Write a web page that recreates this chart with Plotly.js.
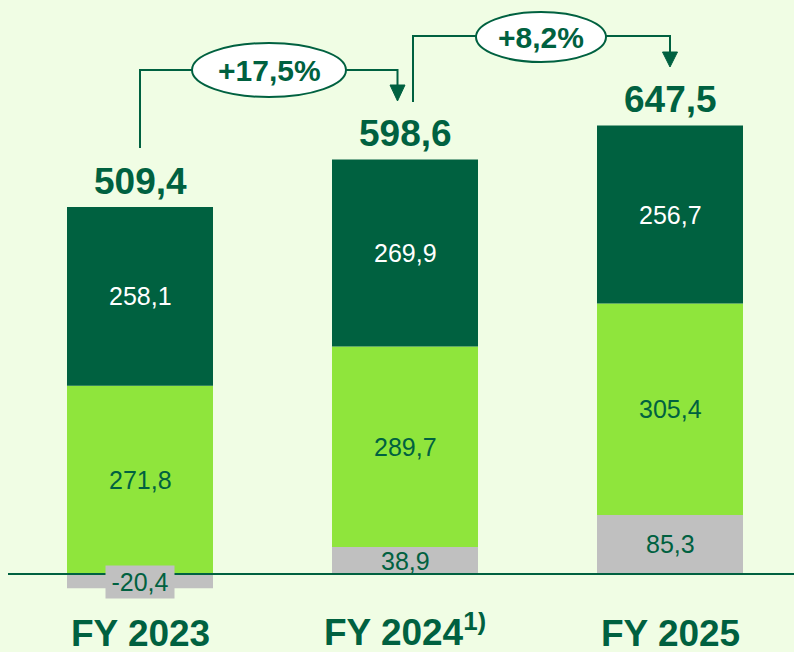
<!DOCTYPE html>
<html>
<head>
<meta charset="utf-8">
<script src="https://cdn.plot.ly/plotly-3.0.1.min.js"></script>
<style>
  html, body { margin: 0; padding: 0; background: #F0FDE4; }
  #chart { width: 794px; height: 652px; }
</style>
</head>
<body>
<div id="chart"></div>
<script>
// ---- data ----
const categories = ['FY 2023', 'FY 2024<sup>1)</sup>', 'FY 2025'];
const otherValues = [-20.4, 38.9, 85.3];      // grey segment
const midValues   = [271.8, 289.7, 305.4];    // light green segment
const topValues   = [258.1, 269.9, 256.7];    // dark green segment
const totals      = [509.4, 598.6, 647.5];
const totalLabels = ['509,4', '598,6', '647,5'];
const growthLabels = ['+17,5%', '+8,2%'];

// ---- styling / geometry ----
const W = 794, H = 652;
const ML = 8, MR = 0, MT = 0, MB = 0;
const DARK = '#006140';
const LIGHT = '#8FE53C';
const GREY = '#C0C0C0';
const BG = '#F0FDE4';
const FONT = 'Liberation Sans, Arial, Helvetica, sans-serif';

const pxPerUnitX = 265;
const x0px = 140 - ML;
const xr0 = -x0px / pxPerUnitX;
const xr1 = xr0 + (W - ML - MR) / pxPerUnitX;
const baselinePx = 574;
const k = 367 / 529.9;
const yr1 = (baselinePx - MT) / k;
const yr0 = -(H - MB - baselinePx) / k;

const X = px => xr0 + (px - ML) / pxPerUnitX;
const Y = py => (baselinePx - py) / k;

const xs = categories.map((_, i) => i);
const fmt = v => v.toFixed(1).replace('.', ',');

const barW = 146 / pxPerUnitX;
const traces = [
  {type: 'bar', x: xs, y: otherValues, marker: {color: GREY}, width: barW, hoverinfo: 'skip'},
  {type: 'bar', x: xs, y: midValues, marker: {color: LIGHT}, width: barW, hoverinfo: 'skip'},
  {type: 'bar', x: xs, y: topValues, marker: {color: DARK}, width: barW, hoverinfo: 'skip'}
];

const annotations = [];
xs.forEach(i => {
  const o = otherValues[i];
  const oa = {
    x: i, y: o / 2, xref: 'x', yref: 'y', text: fmt(o), showarrow: false,
    font: {family: FONT, size: 25, color: DARK}, xanchor: 'center', yanchor: 'middle'
  };
  if (o < 0) { oa.bgcolor = GREY; oa.width = 68; oa.height = 32; oa.borderpad = 0; oa.yshift = -1; }
  annotations.push(oa);
  const posBase = Math.max(o, 0);
  annotations.push({
    x: i, y: posBase + midValues[i] / 2, xref: 'x', yref: 'y', text: fmt(midValues[i]), showarrow: false,
    font: {family: FONT, size: 25, color: DARK}, xanchor: 'center', yanchor: 'middle'
  });
  annotations.push({
    x: i, y: posBase + midValues[i] + topValues[i] / 2, xref: 'x', yref: 'y', text: fmt(topValues[i]), showarrow: false,
    font: {family: FONT, size: 25, color: '#FFFFFF'}, xanchor: 'center', yanchor: 'middle'
  });
  const top = posBase + midValues[i] + topValues[i];
  annotations.push({
    x: i, y: top, xref: 'x', yref: 'y', text: '<b>' + totalLabels[i] + '</b>', showarrow: false,
    font: {family: FONT, size: 37, color: DARK}, xanchor: 'center', yanchor: 'middle', yshift: 26
  });
  annotations.push({
    x: i, y: Y(633), xref: 'x', yref: 'y', text: '<b>' + categories[i] + '</b>', showarrow: false,
    font: {family: FONT, size: 37, color: DARK}, xanchor: 'center', yanchor: 'middle',
    height: 36, borderpad: 0, valign: 'middle',
    yshift: categories[i].indexOf('<sup>') >= 0 ? 3 : 0
  });
});

const ell = [
  {x0: 192, x1: 346, y0: 43, y1: 97},
  {x0: 476, x1: 606, y0: 12, y1: 62}
];
growthLabels.forEach((g, j) => {
  const e = ell[j];
  annotations.push({
    x: X((e.x0 + e.x1) / 2), y: Y((e.y0 + e.y1) / 2), xref: 'x', yref: 'y',
    text: '<b>' + g + '</b>', showarrow: false,
    font: {family: FONT, size: 30, color: DARK}, xanchor: 'center', yanchor: 'middle'
  });
});

const line = {color: DARK, width: 2};
const pathFrom = pts => 'M ' + pts.map(p => X(p[0]) + ',' + Y(p[1])).join(' L ');
const shapes = [
  {type: 'line', xref: 'paper', yref: 'y', x0: 0, x1: 1, y0: 0, y1: 0, line: {color: DARK, width: 2}},
  {type: 'path', path: pathFrom([[140, 148], [140, 70], [192, 70]]), line: line},
  {type: 'path', path: pathFrom([[346, 70], [397.5, 70], [397.5, 88]]), line: line},
  {type: 'path', path: pathFrom([[390, 85], [405, 85], [397.5, 101]]) + ' Z', fillcolor: DARK, line: {color: DARK, width: 1}},
  {type: 'path', path: pathFrom([[413, 102], [413, 36], [476, 36]]), line: line},
  {type: 'path', path: pathFrom([[606, 36], [670, 36], [670, 54]]), line: line},
  {type: 'path', path: pathFrom([[662.5, 52], [677.5, 52], [670, 67]]) + ' Z', fillcolor: DARK, line: {color: DARK, width: 1}}
];
ell.forEach(e => shapes.push({
  type: 'circle', xref: 'x', yref: 'y', x0: X(e.x0), x1: X(e.x1), y0: Y(e.y1), y1: Y(e.y0),
  fillcolor: '#FFFFFF', line: {color: DARK, width: 2}, layer: 'above'
}));

const layout = {
  width: W, height: H,
  margin: {l: ML, r: MR, t: MT, b: MB, pad: 0},
  paper_bgcolor: BG, plot_bgcolor: BG,
  barmode: 'relative',
  showlegend: false,
  xaxis: {range: [xr0, xr1], visible: false, fixedrange: true},
  yaxis: {range: [yr0, yr1], visible: false, fixedrange: true, zeroline: false},
  shapes: shapes,
  annotations: annotations
};

Plotly.newPlot('chart', traces, layout, {displayModeBar: false, staticPlot: true});
</script>
</body>
</html>
